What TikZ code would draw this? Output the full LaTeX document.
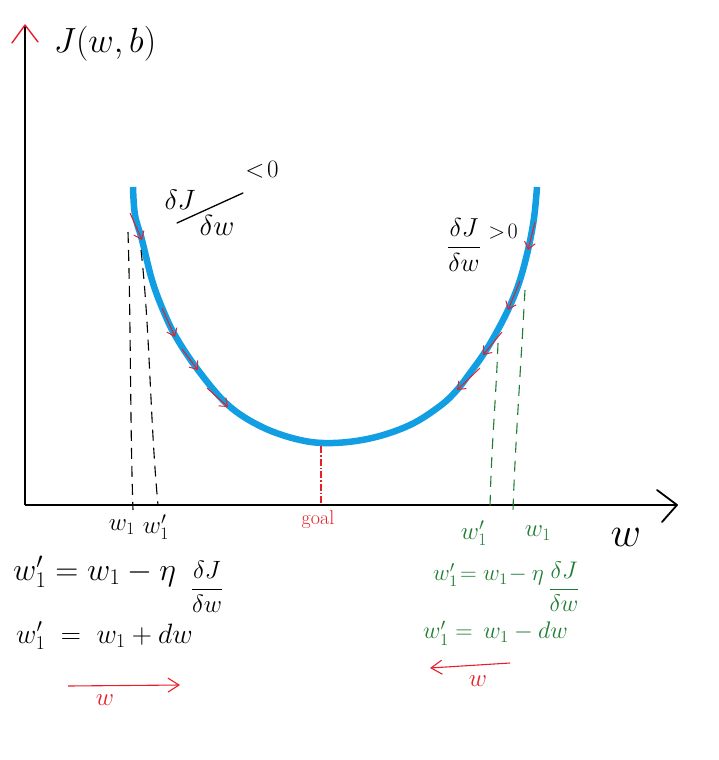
\RequirePackage{fix-cm}
\documentclass[tikz,border=0pt]{standalone}
\usepackage{amsmath}
\usetikzlibrary{arrows.meta}
\definecolor{curveblue}{RGB}{18,158,226}
\definecolor{hred}{RGB}{232,30,40}
\definecolor{hgreen}{RGB}{30,125,50}
\begin{document}
\begin{tikzpicture}[x=1pt,y=-1pt,
  axis/.style={line width=1.6pt,black},
  chev/.style={line width=1.4pt,line cap=round,line join=round},
  curve/.style={line width=6.5pt,curveblue},
  stepred/.style={hred,line width=1pt,-{Straight Barb[length=7pt,width=11pt,line width=1pt]}},
  blackdash/.style={black,line width=1.1pt,dash pattern=on 11pt off 7pt},
  greendash/.style={hgreen,line width=1.1pt,dash pattern=on 11pt off 8pt},
  lbl/.style={inner sep=0pt,font=\fontsize{25}{27}\selectfont},
  glbl/.style={lbl,text=hgreen},
  rlbl/.style={lbl,text=hred}]
\useasboundingbox (0,0) rectangle (718,760);
% axes
\coordinate (O) at (25,505);
\coordinate (Ytop) at (25,25);
\coordinate (Xend) at (677,505);
\draw[axis] (O) -- (Ytop);
\draw[axis] (O) -- (Xend);
\draw[chev,hred] (12,43) -- (Ytop) -- (38,42);
\draw[chev,black,line width=1.8pt] (657,490) -- (Xend) -- (662,522);
\node[lbl,font=\fontsize{35}{37}\selectfont] (jlab) at (105,44) {$J(w,b)$};
\node[lbl,font=\fontsize{42}{44}\selectfont] (wlab) at (626,537) {$w$};
% curve
\draw[curve,line cap=butt] plot[smooth,tension=0.6] coordinates {
 (133,187) (135,215) (142,240) (152,280) (163,310) (176,337) (198,370) (228,405) (262,427) (300,440) (333,443)
 (372,438) (410,425) (440,406) (457,390) (470,373) (483,355) (495,335) (508,310) (519,283) (528,250) (534,218) (537,187)};
% left dashed lines
\draw[blackdash] (128,232) .. controls (131,330) and (130,420) .. (133,510);
\draw[blackdash] (141,250) .. controls (150,330) and (150,420) .. (158,505);
% right dashed lines
\draw[greendash] (498,343) .. controls (496,400) and (491,450) .. (490,510);
\draw[greendash] (525,290) .. controls (520,380) and (515,450) .. (513,510);
% goal
\draw[hred,line width=1.1pt,dash pattern=on 7pt off 2pt on 1.5pt off 2pt] (321,446) -- (321,505);
\node[rlbl,font=\fontsize{20}{22}\selectfont] (goal) at (318,520) {goal};
% red arrows left
\draw[stepred] (130,213) -- (142,240);
\draw[stepred] (162,308) -- (175,337);
\draw[stepred] (182,349) -- (198,370);
\draw[stepred] (207,388) -- (228,407);
% red arrows right
\draw[stepred] (535,222) -- (528,250);
\draw[stepred] (520,281) -- (508,310);
\draw[stepred] (502,332) -- (483,355);
\draw[stepred] (480,368) -- (457,390);
% derivative labels left
\node[lbl,font=\fontsize{28}{30}\selectfont] (dJl) at (180,200) {$\delta J$};
\draw[line width=1.3pt,line cap=round] (177,223) -- (243,193);
\node[lbl,font=\fontsize{29}{31}\selectfont] (dwl) at (217,225) {$\delta w$};
\node[lbl] (ltz) at (262,170) {$<\!0$};
% derivative labels right
\node[lbl,font=\fontsize{26}{28}\selectfont] (frr) at (464,245) {$\dfrac{\delta J}{\delta w}$};
\node[lbl,font=\fontsize{22}{24}\selectfont] (gtz) at (503,232) {$>\!0$};
% left formulas
\node[lbl] (lw1) at (122,527) {$w_1$};
\node[lbl] (lw1p) at (156,527) {$w_1'$};
\node[lbl,anchor=west,font=\fontsize{32}{34}\selectfont] (leq1) at (13,572) {$w_1' = w_1 - \eta$};
\node[lbl] (lfr) at (207,587) {$\dfrac{\delta J}{\delta w}$};
\node[lbl,anchor=west,font=\fontsize{28}{30}\selectfont] (leq2) at (16,636) {$w_1' \;=\; w_1 + dw$};
\coordinate (ra1) at (68,686);
\coordinate (ra2) at (180,685);
\draw[hred,line width=1.1pt,-{Straight Barb[length=11pt,width=14pt,line width=1.1pt]}] (ra1) -- (ra2);
\node[rlbl] (rw1) at (105,700) {$w$};
% right formulas
\node[glbl] (rw1p) at (474,533) {$w_1'$};
\node[glbl] (rw1) at (538,533) {$w_1$};
\node[glbl,anchor=west,font=\fontsize{23}{25}\selectfont] (req1) at (433,575) {$w_1'\!=w_1\!-\eta$};
\node[glbl,font=\fontsize{24}{26}\selectfont] (rfr) at (564,587) {$\dfrac{\delta J}{\delta w}$};
\node[glbl,anchor=west,font=\fontsize{24}{26}\selectfont] (req2) at (423,633) {$w_1' = \, w_1 - dw$};
\coordinate (la1) at (510,663);
\coordinate (la2) at (430,668);
\draw[hred,line width=1.1pt,-{Straight Barb[length=11pt,width=14pt,line width=1.1pt]}] (la1) -- (la2);
\node[rlbl] (lw) at (478,681) {$w$};
\end{tikzpicture}
\end{document}
